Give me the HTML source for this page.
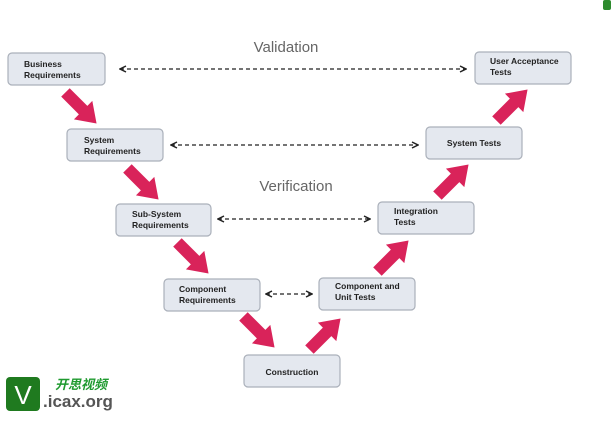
<!DOCTYPE html>
<html><head><style>
body{margin:0;background:#fff;width:611px;height:418px;overflow:hidden;font-family:"Liberation Sans","Noto Sans CJK SC",sans-serif}
</style></head><body>
<svg width="611" height="418" xmlns="http://www.w3.org/2000/svg" font-family="Liberation Sans, sans-serif">
<defs>
<polygon id="ar" points="-22,-6 3,-6 3,-13 22,0 3,13 3,6 -22,6" fill="#d9235a"/>
<marker id="h" markerWidth="8" markerHeight="8" refX="7" refY="4" orient="auto-start-reverse" markerUnits="userSpaceOnUse"><path d="M1,1 L7,4 L1,7" fill="none" stroke="#222" stroke-width="1.5"/></marker>
</defs>
<rect x="603" y="0" width="8" height="10" rx="2" fill="#2e8b2e"/>
<text x="286" y="52" font-size="15" fill="#666" text-anchor="middle">Validation</text>
<text x="296" y="191" font-size="15" fill="#666" text-anchor="middle">Verification</text>
<g stroke="#222" stroke-width="1.3" stroke-dasharray="4,3" marker-start="url(#h)" marker-end="url(#h)">
<line x1="120" y1="69" x2="466" y2="69"/>
<line x1="171" y1="145" x2="418" y2="145"/>
<line x1="218" y1="219" x2="370" y2="219"/>
<line x1="266" y1="294" x2="312" y2="294"/>
</g>
<g fill="#e4e8ef" stroke="#aab0ba" stroke-width="1.2">
<rect x="8" y="53" width="97" height="32" rx="4"/>
<rect x="67" y="129" width="96" height="32" rx="4"/>
<rect x="116" y="204" width="95" height="32" rx="4"/>
<rect x="164" y="279" width="96" height="32" rx="4"/>
<rect x="244" y="355" width="96" height="32" rx="4"/>
<rect x="319" y="278" width="96" height="32" rx="4"/>
<rect x="378" y="202" width="96" height="32" rx="4"/>
<rect x="426" y="127" width="96" height="32" rx="4"/>
<rect x="475" y="52" width="96" height="32" rx="4"/>
</g>
<g font-size="8.5" font-weight="bold" fill="#222">
<text x="24" y="67">Business</text><text x="24" y="78">Requirements</text>
<text x="84" y="143">System</text><text x="84" y="154">Requirements</text>
<text x="132" y="217">Sub-System</text><text x="132" y="228">Requirements</text>
<text x="179" y="292">Component</text><text x="179" y="303">Requirements</text>
<text x="292" y="375" text-anchor="middle">Construction</text>
<text x="335" y="289">Component and</text><text x="335" y="300">Unit Tests</text>
<text x="394" y="214">Integration</text><text x="394" y="225">Tests</text>
<text x="474" y="146" text-anchor="middle">System Tests</text>
<text x="490" y="64">User Acceptance</text><text x="490" y="75">Tests</text>
</g>
<use href="#ar" transform="translate(81,108) rotate(45)"/>
<use href="#ar" transform="translate(143,184) rotate(45)"/>
<use href="#ar" transform="translate(193,258) rotate(45)"/>
<use href="#ar" transform="translate(259,332) rotate(45)"/>
<use href="#ar" transform="translate(325,334) rotate(-45)"/>
<use href="#ar" transform="translate(393,256) rotate(-45)"/>
<use href="#ar" transform="translate(453,180) rotate(-45)"/>
<use href="#ar" transform="translate(512,105) rotate(-45)"/>
<rect x="6" y="377" width="34" height="34" rx="4" fill="#1f7a1f"/>
<text x="23" y="404" font-size="26" fill="#fff" text-anchor="middle">V</text>
<text x="55" y="389" font-size="13" font-weight="bold" font-style="italic" fill="#1f9a2f" font-family="Noto Sans CJK SC, sans-serif">开思视频</text>
<text x="43" y="407" font-size="17" font-weight="bold" fill="#555">.icax.org</text>
</svg>
</body></html>
